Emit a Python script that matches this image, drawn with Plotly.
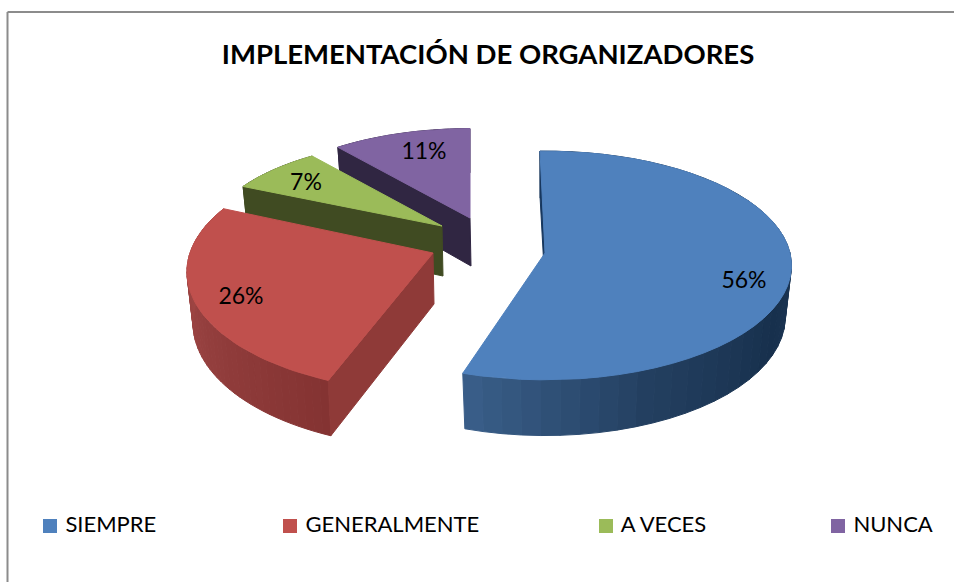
import math
import plotly.graph_objects as go

TITLE = "IMPLEMENTACIÓN DE ORGANIZADORES"
categories = ["SIEMPRE", "GENERALMENTE", "A VECES", "NUNCA"]
values = [56, 26, 7, 11]
top_colors = ["#4F81BD", "#C0504D", "#9BBB59", "#8064A2"]
face_colors = ["#17375E", "#8F3A38", "#404B22", "#302642"]

# Projection of each exploded wedge of the tilted pie onto the page
apex_x = [545, 433, 442, 470]
apex_y = [253, 253, 226, 218]
radius_x = [245, 243, 232, 228]
radius_y = [113, 117, 98, 101]
perspective = [0.109, 0.157, 0.13, 0.13]
depth = [51, 51, 50, 48]
angle_adjust = [(-1.3, -4.1), (0, -1.5), (0, 1.5), (0, 0)]
side_stops = [
    [(0.0, "#1F3A58"), (0.4, "#1F3A58"), (0.6, "#17304D"), (0.8, "#233F60"), (1.0, "#3A5F8A")],
    [(0.0, "#843332"), (0.5, "#974140"), (1.0, "#A64A47")],
    [(0.0, "#404B22"), (1.0, "#404B22")],
    [(0.0, "#302642"), (1.0, "#302642")],
]
label_x = [744, 241, 306, 424]
label_y = [282, 298, 184, 153]
legend_x = [50, 290, 606, 838]
legend_y = 526
BOTTOM_SHRINK = 0.975
FONT = "Lato, Carlito, Calibri, sans-serif"
N_STRIPS = 48


def hex_rgb(c):
    return tuple(int(c[i:i + 2], 16) for i in (1, 3, 5))


def stop_color(stops, t):
    for (t0, c0), (t1, c1) in zip(stops, stops[1:]):
        if t <= t1:
            f = 0 if t1 == t0 else (t - t0) / (t1 - t0)
            a, b = hex_rgb(c0), hex_rgb(c1)
            return "rgb(%d,%d,%d)" % tuple(round(a[k] + (b[k] - a[k]) * f) for k in range(3))
    return stops[-1][1]


def project(i, deg):
    u, v = math.sin(math.radians(deg)), math.cos(math.radians(deg))
    w = 1 + perspective[i] * v
    return apex_x[i] + radius_x[i] * u / w, apex_y[i] - radius_y[i] * v / w, v


def lower(i, x, y, v):
    return apex_x[i] + (x - apex_x[i]) * BOTTOM_SHRINK, y + depth[i] / (1 + 0.085 * v)


def poly(xs, ys, color, name):
    return go.Scatter(x=xs, y=ys, mode="lines", fill="toself", fillcolor=color,
                      line=dict(color=color, width=1), hoverinfo="skip",
                      showlegend=False, name=name)


fig = go.Figure()
total = sum(values)
starts, acc = [], 0
for val in values:
    starts.append(acc / total * 360)
    acc += val

for i in [3, 2, 1, 0]:
    a0 = starts[i] + angle_adjust[i][0]
    a1 = starts[i] + values[i] / total * 360 + angle_adjust[i][1]
    angles = [a0 + (a1 - a0) * k / N_STRIPS for k in range(N_STRIPS + 1)]
    rim = [project(i, a) for a in angles]
    # outer side, as shaded strips
    for k in range(N_STRIPS):
        x0, y0, v0 = rim[k]
        x1, y1, v1 = rim[k + 1]
        bx0, by0 = lower(i, x0, y0, v0)
        bx1, by1 = lower(i, x1, y1, v1)
        fig.add_trace(poly([x0, x1, bx1, bx0, x0], [y0, y1, by1, by0, y0],
                           stop_color(side_stops[i], (k + 0.5) / N_STRIPS), categories[i] + " side"))
    # radial face at the start of the wedge
    x0, y0, v0 = rim[0]
    bx0, by0 = lower(i, x0, y0, v0)
    ax, ay = apex_x[i], apex_y[i]
    fig.add_trace(poly([x0, ax, ax + 1, bx0, x0], [y0, ay, ay + depth[i], by0, y0],
                       face_colors[i], categories[i] + " face"))
    # top surface
    xs = [ax] + [p[0] for p in rim] + [ax]
    ys = [ay] + [p[1] for p in rim] + [ay]
    fig.add_trace(poly(xs, ys, top_colors[i], categories[i]))

# percent labels
fig.add_trace(go.Scatter(x=label_x, y=label_y, mode="text",
                         text=[f"{v}%" for v in values],
                         textfont=dict(family=FONT, size=23, color="#000000"),
                         textposition="middle center", hoverinfo="skip", showlegend=False))

# legend row
for i, cat in enumerate(categories):
    fig.add_trace(go.Scatter(x=[legend_x[i]], y=[legend_y], mode="markers+text",
                             marker=dict(symbol="square", size=14, color=top_colors[i]),
                             text=[" " + cat], textposition="middle right",
                             textfont=dict(family=FONT, size=22, color="#000000"),
                             hoverinfo="skip", showlegend=False, name=cat))

fig.update_layout(
    width=954, height=582, margin=dict(l=0, r=0, t=0, b=0),
    paper_bgcolor="#FFFFFF", plot_bgcolor="#FFFFFF", showlegend=False,
    title=dict(text="<b>" + TITLE + "</b>", x=488 / 954, y=1 - 54 / 582,
               xanchor="center", yanchor="middle",
               font=dict(family=FONT, size=27.5, color="#000000")),
    xaxis=dict(range=[0, 954], visible=False, fixedrange=True),
    yaxis=dict(range=[582, 0], visible=False, fixedrange=True),
    shapes=[
        dict(type="line", xref="x", yref="y", x0=7.5, x1=954, y0=12, y1=12,
             line=dict(color="#8C8C8C", width=2)),
        dict(type="line", xref="x", yref="y", x0=7.5, x1=7.5, y0=12, y1=582,
             line=dict(color="#8C8C8C", width=2)),
    ],
)
fig.write_html("out.html", config=dict(displayModeBar=False),
               post_script="document.body.style.margin='0';document.body.style.overflow='hidden';")
